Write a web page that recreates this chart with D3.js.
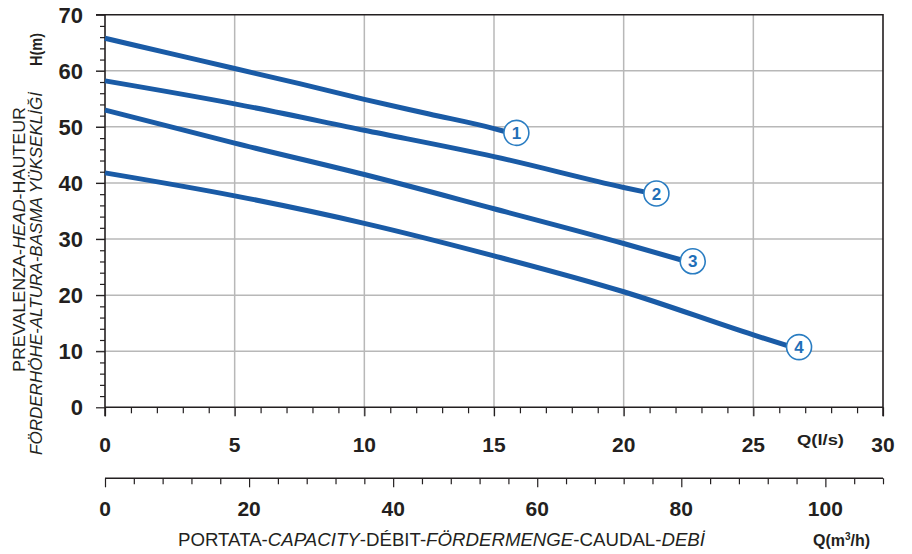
<!DOCTYPE html>
<html><head><meta charset="utf-8">
<script src="https://cdn.jsdelivr.net/npm/d3@7"></script>
<style>body{margin:0;background:#fff}svg{display:block;font-family:Arial,"Liberation Sans",sans-serif}</style>
</head><body><svg id="c" width="912" height="554"></svg>
<script>
// ---- data ----
const curveNames = ["1", "2", "3", "4"];
const q1 = [0, 2.5, 5, 7.5, 10, 12.5, 15, 15.4];
const h1 = [65.8, 63.1, 60.4, 57.7, 54.9, 52.3, 49.7, 49.2];
const q2 = [0, 5, 10, 15, 20, 20.8];
const h2 = [58.2, 54.1, 49.4, 44.7, 39.2, 38.4];
const q3 = [0, 5, 10, 15, 20, 22.2];
const h3 = [53.0, 47.1, 41.5, 35.4, 29.2, 26.3];
const q4 = [0, 5, 10, 15, 20, 25, 26.3];
const h4 = [41.8, 37.7, 32.8, 27.0, 20.6, 12.9, 11.0];
const yTicks = [0, 10, 20, 30, 40, 50, 60, 70];
const xTicks = [0, 5, 10, 15, 20, 25, 30];
const x2Ticks = [0, 20, 40, 60, 80, 100];

const series = [[q1, h1], [q2, h2], [q3, h3], [q4, h4]];

const svg = d3.select("#c");
const L = 105, R = 883, T = 14.7, B = 407.3;
const x = d3.scaleLinear().domain([0, 30]).range([L, R]);
const y = d3.scaleLinear().domain([0, 70]).range([B, T]);
const x2 = d3.scaleLinear().domain([0, 108]).range([L, R]);

const grid = "#b8b8b8", ink = "#231f20";

// gridlines
svg.append("g").selectAll("line").data(yTicks.filter(d => d > 0 && d < 70)).join("line")
  .attr("x1", 96).attr("x2", R).attr("y1", d => y(d)).attr("y2", d => y(d))
  .attr("stroke", grid).attr("stroke-width", 1.5);
svg.append("g").selectAll("line").data(xTicks.filter(d => d > 0 && d < 30)).join("line")
  .attr("x1", d => x(d)).attr("x2", d => x(d)).attr("y1", T).attr("y2", B + 9)
  .attr("stroke", grid).attr("stroke-width", 1.5);

// y axis
const yAxis = d3.axisLeft(y).tickValues(d3.range(0, 71, 2)).tickSize(5).tickFormat("");
const gy = svg.append("g").attr("transform", `translate(${L},0)`).call(yAxis);
gy.select(".domain").remove();
gy.selectAll(".tick line").attr("stroke", ink).attr("stroke-width", 1.2)
  .attr("x2", d => d % 10 === 0 ? -9 : -5);
svg.append("g").selectAll("text").data(yTicks).join("text")
  .attr("x", 83).attr("y", d => y(d)).attr("dy", "0.36em").attr("text-anchor", "end")
  .attr("font-size", 22).attr("font-weight", "bold").attr("fill", ink).text(d => d);

// x axis (l/s)
const xAxis = d3.axisBottom(x).tickValues(d3.range(0, 31, 1)).tickSize(6).tickFormat("");
const gx = svg.append("g").attr("transform", `translate(0,${B})`).call(xAxis);
gx.select(".domain").remove();
gx.selectAll(".tick line").attr("stroke", ink).attr("stroke-width", 1.2)
  .attr("y2", d => d % 5 === 0 ? 9 : 6);
svg.append("g").selectAll("text").data(xTicks).join("text")
  .attr("x", d => x(d)).attr("y", 452).attr("text-anchor", "middle")
  .attr("font-size", 21).attr("font-weight", "bold").attr("fill", ink).text(d => d);

// frame
svg.append("path").attr("d", `M${96},${T}H${R}V${B + 9}`).attr("fill", "none").attr("stroke", ink).attr("stroke-width", 1.6);
svg.append("line").attr("x1", L).attr("x2", L).attr("y1", T).attr("y2", B + 9).attr("stroke", ink).attr("stroke-width", 1.6);
svg.append("line").attr("x1", L).attr("x2", R).attr("y1", B).attr("y2", B).attr("stroke", ink).attr("stroke-width", 1.6);

// second x axis (m3/h)
const x2Axis = d3.axisBottom(x2).tickValues(d3.range(0, 109, 4)).tickSize(6).tickFormat("");
const g2 = svg.append("g").attr("transform", "translate(0,478.3)").call(x2Axis);
g2.select(".domain").attr("d", `M${L},0H${R}`).attr("stroke", ink).attr("stroke-width", 1.4);
g2.selectAll(".tick line").attr("stroke", ink).attr("stroke-width", 1.2)
  .attr("y2", d => d % 20 === 0 ? 9 : 6);
svg.append("g").selectAll("text").data(x2Ticks).join("text")
  .attr("x", d => x2(d)).attr("y", 516).attr("text-anchor", "middle")
  .attr("font-size", 21).attr("font-weight", "bold").attr("fill", ink).text(d => d);

// axis unit labels
svg.append("text").attr("x", 797).attr("y", 445).attr("font-size", 15).attr("font-weight", "bold")
  .attr("fill", ink).attr("textLength", 47).attr("lengthAdjust", "spacingAndGlyphs").text("Q(l/s)");
const qm = svg.append("text").attr("x", 813).attr("y", 546).attr("font-size", 16).attr("font-weight", "bold").attr("fill", ink);
qm.append("tspan").text("Q(m");
qm.append("tspan").attr("font-size", 10).attr("dy", -6).text("3");
qm.append("tspan").attr("dy", 6).text("/h)");

// x title
const xt = svg.append("text").attr("x", 178).attr("y", 546).attr("font-size", 17.5).attr("fill", ink)
  .attr("textLength", 527).attr("lengthAdjust", "spacingAndGlyphs");
[["PORTATA-", false], ["CAPACITY", true], ["-DÉBIT-", false], ["FÖRDERMENGE", true], ["-CAUDAL-", false], ["DEBİ", true]]
  .forEach(([t, it]) => xt.append("tspan").attr("font-style", it ? "italic" : "normal").text(t));

// y title
const yt1 = svg.append("text").attr("transform", "translate(25,372) rotate(-90)").attr("font-size", 17).attr("fill", ink)
  .attr("textLength", 265).attr("lengthAdjust", "spacingAndGlyphs");
[["PREVALENZA-", false], ["HEAD", true], ["-HAUTEUR", false]]
  .forEach(([t, it]) => yt1.append("tspan").attr("font-style", it ? "italic" : "normal").text(t));
svg.append("text").attr("transform", "translate(41.5,455) rotate(-90)").attr("font-size", 17).attr("fill", ink)
  .attr("font-style", "italic").attr("textLength", 363).attr("lengthAdjust", "spacingAndGlyphs")
  .text("FÖRDERHÖHE-ALTURA-BASMA YÜKSEKLİĞİ");
svg.append("text").attr("transform", "translate(41.5,66) rotate(-90)").attr("font-size", 16).attr("fill", ink)
  .attr("font-weight", "bold").attr("textLength", 33).attr("lengthAdjust", "spacingAndGlyphs").text("H(m)");

// curves
const line = d3.line().x(d => x(d[0])).y(d => y(d[1])).curve(d3.curveMonotoneX);
const blue = "#1a5ba6";
series.forEach(([qs, hs], i) => {
  const pts = qs.map((q, j) => [q, hs[j]]);
  svg.append("path").datum(pts).attr("d", line).attr("fill", "none")
    .attr("stroke", blue).attr("stroke-width", 5);
  const last = pts[pts.length - 1];
  const cx = x(last[0]) + 12, cy = y(last[1]) + 1.5;
  svg.append("circle").attr("cx", cx).attr("cy", cy).attr("r", 12.5)
    .attr("fill", "#fff").attr("stroke", "#2a7dc2").attr("stroke-width", 1.6);
  svg.append("text").attr("x", cx).attr("y", cy).attr("dy", "0.36em").attr("text-anchor", "middle")
    .attr("font-size", 17).attr("font-weight", "bold").attr("fill", "#1f6fb8").text(curveNames[i]);
});
</script></body></html>
